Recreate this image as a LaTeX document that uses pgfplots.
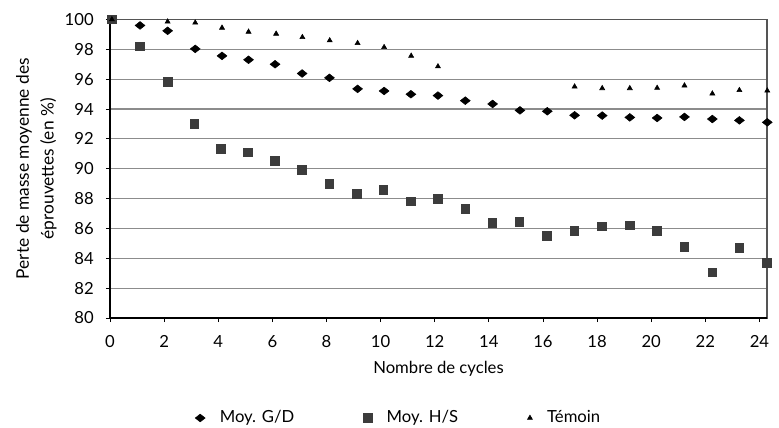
\documentclass[border=0pt]{standalone}
\usepackage{pgfplots}
\pgfplotsset{compat=1.18}
\usepackage{fontspec}
\setmainfont{Lato}
\definecolor{gridc}{HTML}{8C8C8C}
\definecolor{boxc}{HTML}{555555}
\definecolor{sqc}{HTML}{3C3C3C}

\pgfplotstableread{
x y
0.07 100
1.11 99.60
2.13 99.24
3.15 98.03
4.14 97.56
5.12 97.30
6.10 97.00
7.10 96.38
8.11 96.09
9.15 95.35
10.13 95.21
11.12 94.99
12.12 94.90
13.13 94.56
14.14 94.34
15.15 93.91
16.16 93.85
17.17 93.58
18.19 93.56
19.21 93.44
20.22 93.40
21.23 93.47
22.26 93.33
23.26 93.24
24.29 93.11
}\gd

\pgfplotstableread{
x y
0.07 100
1.11 98.21
2.13 95.84
3.11 93.00
4.10 91.32
5.09 91.10
6.09 90.55
7.08 89.93
8.11 89.01
9.12 88.32
10.10 88.59
11.11 87.83
12.12 88.00
13.13 87.32
14.12 86.38
15.13 86.44
16.14 85.50
17.15 85.84
18.17 86.13
19.20 86.22
20.21 85.84
21.22 84.77
22.25 83.07
23.26 84.70
24.28 83.71
}\hs

\pgfplotstableread{
x y
0.07 100
2.13 99.85
3.15 99.78
4.14 99.44
5.12 99.17
6.14 99.04
7.11 98.81
8.12 98.59
9.15 98.41
10.13 98.14
11.13 97.56
12.12 96.85
17.17 95.50
18.19 95.39
19.21 95.39
20.22 95.41
21.23 95.57
22.26 95.03
23.26 95.26
24.29 95.23
}\temoin

\begin{document}
\fontsize{12}{14}\selectfont
\begin{tikzpicture}
\begin{axis}[
  scale only axis, width=492.75pt, height=223.9pt,
  xmin=0, xmax=24.28, ymin=80, ymax=100,
  xtick={0,2,...,24}, ytick={80,82,...,100},
  ymajorgrids, grid style={gridc, line width=0.9pt},
  axis line style={boxc, line width=1pt},
  xtick pos=left, ytick pos=left,
  tick align=outside, major tick length=3pt,
  tick style={black, line width=0.6pt},
  /pgf/number format/assume math mode=true,
  ticklabel style={font=\fontsize{12.5}{14}\selectfont},
  yticklabel style={xshift=-5pt},
  xticklabel style={yshift=-6pt},
  clip=false,
  xlabel={Nombre de cycles},
  xlabel style={at={(axis description cs:0.5,-0.171)}, anchor=center, font=\fontsize{12.5}{14}\selectfont},
  ylabel={Perte de masse moyenne des\\éprouvettes (en \%)},
  ylabel style={at={(axis description cs:-0.112,0.5)}, anchor=center, align=center, font=\fontsize{13}{18.5}\selectfont},
  legend columns=3,
  legend style={draw=none, fill=none, at={(axis description cs:0.44,-0.335)}, anchor=center,
    /tikz/every even column/.append style={column sep=50pt},
    /tikz/every odd column/.append style={column sep=9pt},
    font=\fontsize{12.5}{14}\selectfont},
]
\addplot[only marks, mark=diamond*, mark size=2.9pt, mark options={xscale=1.7, fill=black, draw=black}] table[x=x,y=y] {\gd};
\addlegendentry{Moy. G/D}
\addplot[only marks, mark=square*, mark size=3.2pt, mark options={fill=sqc, draw=sqc}] table[x=x,y=y] {\hs};
\addlegendentry{Moy. H/S}
\addplot[only marks, mark=triangle*, mark size=2.2pt, mark options={fill=black, draw=black}] table[x=x,y=y] {\temoin};
\addlegendentry{Témoin}
\draw[black, line width=1.3pt] (rel axis cs:0,1) -- (rel axis cs:0,0) -- (rel axis cs:1,0);
\end{axis}
\pgfresetboundingbox
\path ([xshift=-82.5pt, yshift=-82.5pt]current axis.south west) rectangle ([xshift=9pt, yshift=14.6pt]current axis.north east);
\end{tikzpicture}
\end{document}
